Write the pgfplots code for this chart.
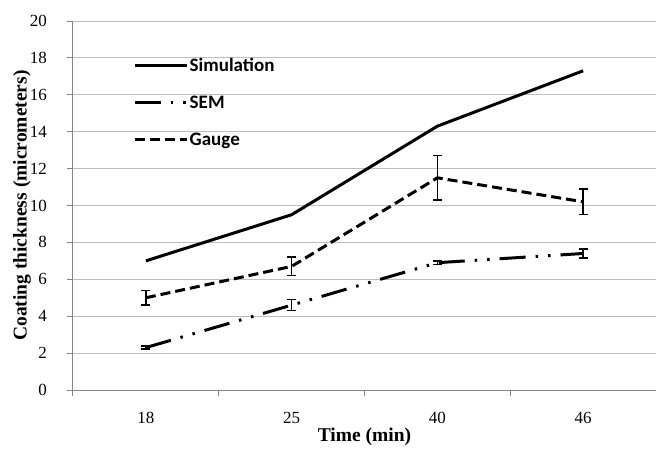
\documentclass[border=0pt]{standalone}
\usepackage{fontspec}
\setmainfont{Liberation Serif}
\newfontfamily\legendfont{Carlito}
\usepackage{pgfplots}
\usepackage{pgfplotstable}
\pgfplotsset{compat=1.18}

\definecolor{gridgray}{HTML}{BEBEBE}
\definecolor{axisgray}{HTML}{868686}

% x: 0=18, 1=25, 2=40, 3=46 min
\pgfplotstableread{
x y
0 7.0
1 9.5
2 14.3
3 17.3
}\simdata
\pgfplotstableread{
x y err
0 2.3 0.08
1 4.6 0.30
2 6.9 0.10
3 7.4 0.25
}\semdata
\pgfplotstableread{
x y err
0 5.0 0.4
1 6.7 0.5
2 11.5 1.2
3 10.2 0.7
}\gaugedata

\begin{document}
\begin{tikzpicture}
\useasboundingbox (-73pt,-58pt) rectangle (583pt,390pt);
\begin{axis}[
  scale only axis,
  width=583pt, height=369pt,
  xmin=-0.5, xmax=3.5,
  ymin=0, ymax=20,
  xtick={0,1,2,3},
  xticklabels={18,25,40,46},
  minor xtick={-0.5,0.5,1.5,2.5,3.5},
  ytick={0,2,4,6,8,10,12,14,16,18,20},
  yticklabels={0,2,4,6,8,10,12,14,16,18,20},
  axis x line*=bottom,
  axis y line*=left,
  axis line style={axisgray, line width=1pt},
  tick align=outside,
  major x tick style={draw=none},
  minor x tick style={axisgray, line width=1pt},
  major y tick style={axisgray, line width=1pt},
  major tick length=6pt,
  minor tick length=6pt,
  ymajorgrids,
  grid style={gridgray, line width=1pt},
  tick label style={font=\fontsize{17}{20}\selectfont, inner sep=0pt},
  xticklabel style={anchor=center, yshift=-22pt},
  yticklabel style={anchor=east, xshift=-20pt},
  xlabel={Time (min)},
  ylabel={Coating thickness (micrometers)},
  every axis x label/.style={at={(rel axis cs:0.5,0)}, yshift=-47pt, anchor=center,
    font=\fontsize{19.5}{22}\selectfont\bfseries},
  every axis y label/.style={at={(rel axis cs:0,0.5)}, xshift=-51pt, rotate=90, anchor=center,
    font=\fontsize{19.5}{22}\selectfont\bfseries},
  legend style={at={(axis description cs:0.103,0.905)}, anchor=north west,
    draw=none, fill=none, inner sep=0pt, row sep=20pt,
    font=\fontsize{19}{22}\selectfont\legendfont\bfseries,
    nodes={inner sep=1.5pt}},
  legend cell align=left,
  legend image code/.code={\draw[#1] (0pt,0pt) -- (52pt,0pt);},
  clip=false,
]
\addplot[black, line width=3pt] table[x=x, y=y] {\simdata};
\addlegendentry{Simulation}
\addplot[black, line width=3pt, dash pattern=on 26pt off 10pt on 2.5pt off 10pt on 2.5pt off 10pt,
  error bars/.cd, y dir=both, y explicit,
  error bar style={black, line width=1.4pt, solid},
  error mark options={rotate=90, mark size=4.5pt, line width=1.4pt, solid}]
  table[x=x, y=y, y error=err] {\semdata};
\addlegendentry{SEM}
\addplot[black, line width=3pt, dash pattern=on 10pt off 5pt,
  error bars/.cd, y dir=both, y explicit,
  error bar style={black, line width=1.4pt, solid},
  error mark options={rotate=90, mark size=4.5pt, line width=1.4pt, solid}]
  table[x=x, y=y, y error=err] {\gaugedata};
\addlegendentry{Gauge}
\end{axis}
\end{tikzpicture}
\end{document}
